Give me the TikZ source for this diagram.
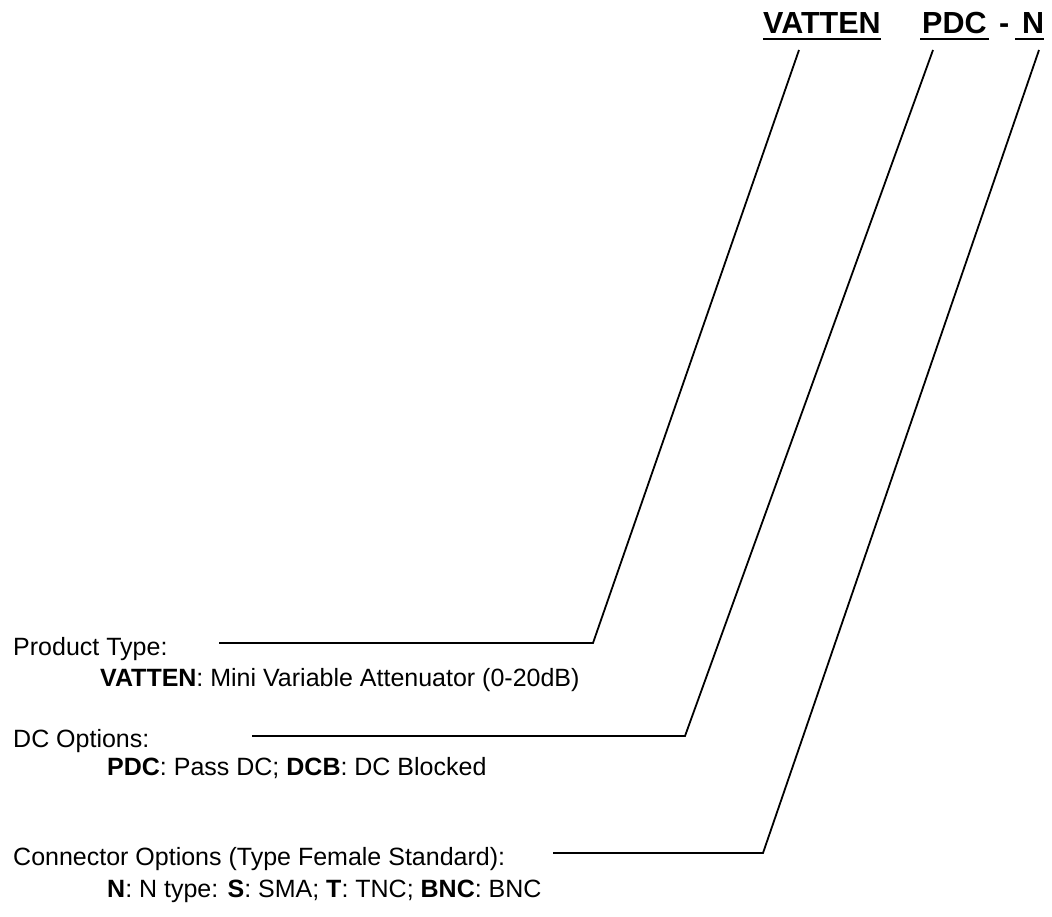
\documentclass[tikz,border=0pt]{standalone}
\usepackage{fontspec}
\setmainfont{Liberation Sans}
\begin{document}
\begin{tikzpicture}[x=1pt,y=-1pt,
  lbl/.style={anchor=base west, inner sep=0pt, font=\fontsize{25}{28}\selectfont},
  hdr/.style={anchor=base west, inner sep=0pt, font=\fontsize{30.5}{34}\selectfont\bfseries},
  leader/.style={line width=1.8pt, line join=miter},
  uline/.style={line width=2pt}]
\useasboundingbox (0,0) rectangle (1052,916);

% header
\node[hdr] (hV) at (763,33) {VATTEN};
\node[hdr] (hP) at (922,33) {PDC};
\node[hdr] (hD) at (999,33) {-};
\node[hdr] (hN) at (1022,33) {N};
\draw[uline] ([yshift=-6pt]hV.base west) -- ([yshift=-6pt]hV.base east);
\draw[uline] ([shift={(-2pt,-6pt)}]hP.base west) -- ([shift={(2pt,-6pt)}]hP.base east);
\draw[uline] ([shift={(-7pt,-6pt)}]hN.base west) -- ([yshift=-6pt]hN.base east);

% labels
\node[lbl] (pt) at (13,655) {Product Type:};
\node[lbl] (ptv) at (100,686) {\textbf{VATTEN}: Mini Variable Attenuator (0-20dB)};
\node[lbl] (dc) at (13,747) {DC Options:};
\node[lbl] (dcv) at (107,775) {\textbf{PDC}: Pass DC; \textbf{DCB}: DC Blocked};
\node[lbl] (co) at (13,865) {Connector Options (Type Female Standard):};
\node[lbl] (cov) at (107,897) {\textbf{N}: N type: \textbf{S}: SMA; \textbf{T}: TNC; \textbf{BNC}: BNC};

% leader coordinates
\coordinate (s1) at (219,643);
\coordinate (j1) at (593,643);
\coordinate (t1) at (799,50);
\coordinate (s2) at (252,736);
\coordinate (j2) at (685,736);
\coordinate (t2) at (933,50);
\coordinate (s3) at (553,853);
\coordinate (j3) at (763,853);
\coordinate (t3) at (1039,50);

\draw[leader] (s1) -- (j1) -- (t1);
\draw[leader] (s2) -- (j2) -- (t2);
\draw[leader] (s3) -- (j3) -- (t3);
\end{tikzpicture}
\end{document}
